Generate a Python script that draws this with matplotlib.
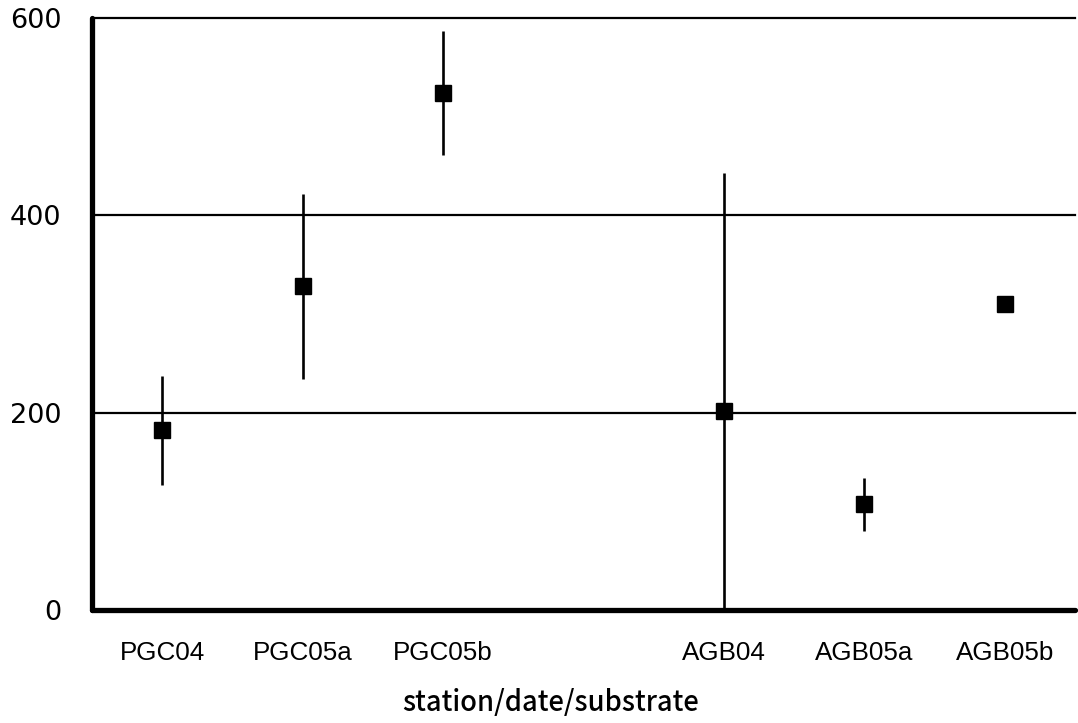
import matplotlib
matplotlib.use("Agg")
import matplotlib.pyplot as plt
import numpy as np

categories = ["PGC04", "PGC05a", "PGC05b", "", "AGB04", "AGB05a", "AGB05b"]
means = [182, 328, 524, np.nan, 202, 107, 310]
errors = [55, 94, 63, np.nan, 241, 27, 0]
yticks = [0, 200, 400, 600]

fig = plt.figure(figsize=(10.78, 7.23), dpi=100)
ax = fig.add_axes([0.0853, 0.1563, 0.912, 0.8188])

x = np.arange(len(categories))
ax.errorbar(x, means, yerr=errors, fmt="s", color="black", ecolor="black",
            elinewidth=1.9, markersize=11.5, capsize=0, zorder=3)

ax.set_xlim(-0.5, len(categories) - 0.5)
ax.set_ylim(0, 600)
ax.set_yticks(yticks)
ax.set_yticklabels([str(v) for v in yticks], fontsize=19.5, family="DejaVu Sans")
ax.set_xticks([i for i, c in enumerate(categories) if c])
ax.set_xticklabels([c for c in categories if c], fontsize=18.7, family="Liberation Sans")
ax.tick_params(axis="y", length=0, pad=22)
ax.tick_params(axis="x", length=0, pad=22)

for yv in yticks[1:]:
    ax.axhline(yv, color="black", lw=1.6, zorder=1, clip_on=False)

for s in ["top", "right"]:
    ax.spines[s].set_visible(False)
ax.spines["left"].set_linewidth(3.8)
ax.spines["bottom"].set_linewidth(3.8)
ax.spines["left"].set_capstyle("round")
ax.spines["bottom"].set_capstyle("round")

ax.set_xlabel("station/date/substrate", fontsize=19.7, family="Noto Sans CJK JP",
              fontweight="medium", va="center")
ax.xaxis.set_label_coords(0.466, -0.157)

fig.savefig("out.png", dpi=100)
